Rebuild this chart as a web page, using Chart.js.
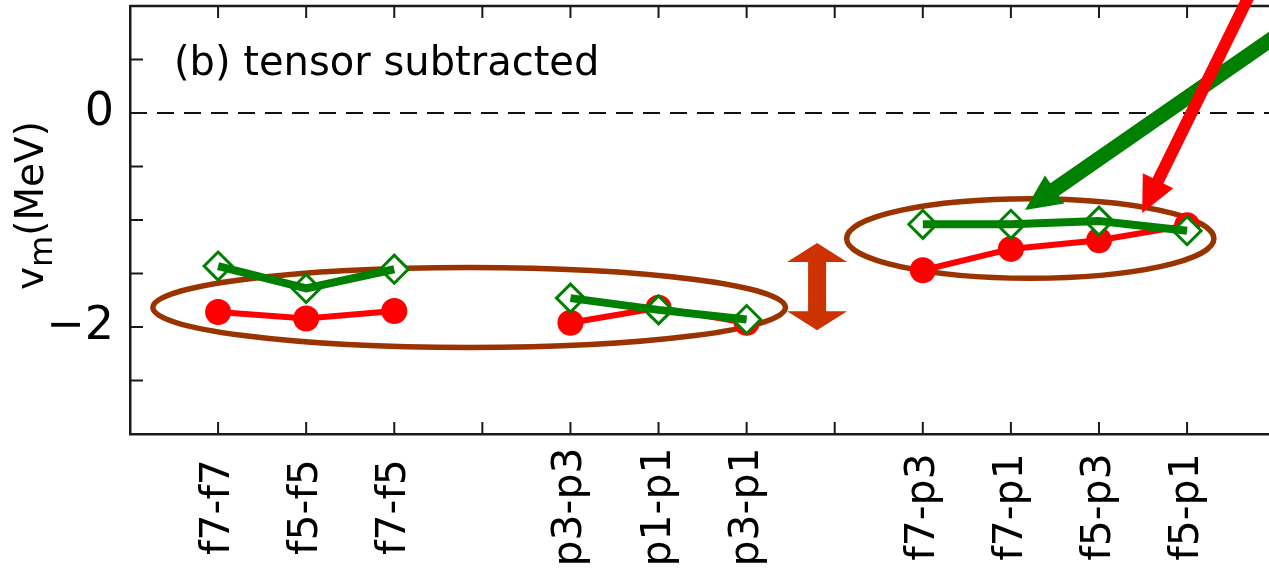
<!DOCTYPE html>
<html>
<head>
<meta charset="utf-8">
<script src="https://cdn.jsdelivr.net/npm/chart.js@4"></script>
<style>
  html, body { margin: 0; padding: 0; background: #fff; }
</style>
</head>
<body>
<canvas id="chart" width="1269" height="577"></canvas>
<script>
/* ---------- DATA ---------- */
const LABELS = ["f7-f7","f5-f5","f7-f5","","p3-p3","p1-p1","p3-p1","","f7-p3","f7-p1","f5-p3","f5-p1"];
const POSITIONS = [1,2,3,4,5,6,7,8,9,10,11,12];
const RED_VALUES   = [-1.86,-1.92,-1.85,null,-1.96,-1.82,-1.96,null,-1.47,-1.27,-1.19,-1.05];
const GREEN_VALUES = [-1.43,-1.64,-1.46,null,-1.73,-1.84,-1.93,null,-1.04,-1.04,-1.01,-1.10];
const Y_TICKS = [-2.5,-2,-1.5,-1,-0.5,0,0.5];
const Y_LABELS = { "0": "0", "-2": "\u22122" };

/* ---------- ANNOTATIONS (data units) ---------- */
const ELLIPSES = [
  { cx: 3.85,  cy: -1.818, rx: 3.59,  ry: 0.374 },
  { cx: 10.22, cy: -1.173, rx: 2.085, ry: 0.372 }
];
const DOUBLE_ARROW = { x: 7.8, top: -1.215, bottom: -2.03 };
const ARROWS = [
  { color: "#008000", from: [13.16, 0.806], to: [10.16, -0.907], width: 15 },
  { color: "#ff0000", from: [12.79, 1.24],  to: [11.49, -0.935], width: 12 }
];

const AXIS_COLOR = "#1a1a1a";
const FONT = "DejaVu Sans";

const toPoints = values => POSITIONS.map((p, i) => ({ x: p, y: values[i] }));

/* ---------- HELPERS ---------- */
function arrowPath(ctx, x0, y0, x1, y1, w, headLen, headHalf) {
  const len = Math.hypot(x1 - x0, y1 - y0);
  const ux = (x1 - x0) / len, uy = (y1 - y0) / len;
  const nx = -uy, ny = ux;
  const bx = x1 - ux * headLen, by = y1 - uy * headLen;
  ctx.beginPath();
  ctx.moveTo(x0 + nx * w / 2, y0 + ny * w / 2);
  ctx.lineTo(bx + nx * w / 2, by + ny * w / 2);
  ctx.lineTo(bx + nx * headHalf, by + ny * headHalf);
  ctx.lineTo(x1, y1);
  ctx.lineTo(bx - nx * headHalf, by - ny * headHalf);
  ctx.lineTo(bx - nx * w / 2, by - ny * w / 2);
  ctx.lineTo(x0 - nx * w / 2, y0 - ny * w / 2);
  ctx.closePath();
  ctx.fill();
}

function doubleArrowPath(ctx, x, top, bottom, w, headLen, headHalf) {
  ctx.beginPath();
  ctx.moveTo(x, top);
  ctx.lineTo(x + headHalf, top + headLen);
  ctx.lineTo(x + w / 2, top + headLen);
  ctx.lineTo(x + w / 2, bottom - headLen);
  ctx.lineTo(x + headHalf, bottom - headLen);
  ctx.lineTo(x, bottom);
  ctx.lineTo(x - headHalf, bottom - headLen);
  ctx.lineTo(x - w / 2, bottom - headLen);
  ctx.lineTo(x - w / 2, top + headLen);
  ctx.lineTo(x - headHalf, top + headLen);
  ctx.closePath();
  ctx.fill();
}

/* ---------- DECOR PLUGIN ---------- */
const decor = {
  id: "decor",
  beforeDatasetsDraw(chart) {
    const { ctx, scales: { x, y } } = chart;
    ctx.save();
    // zero line
    ctx.strokeStyle = "#111";
    ctx.lineWidth = 2;
    ctx.setLineDash([17, 10]);
    const y0 = y.getPixelForValue(0);
    ctx.beginPath();
    ctx.moveTo(x.left, y0);
    ctx.lineTo(x.right, y0);
    ctx.stroke();
    ctx.setLineDash([]);

    // ellipses
    ctx.strokeStyle = "#993300";
    ctx.lineWidth = 5.5;
    ELLIPSES.forEach(e => {
      const cx = x.getPixelForValue(e.cx);
      const cy = y.getPixelForValue(e.cy);
      const rx = x.getPixelForValue(e.cx + e.rx) - cx;
      const ry = y.getPixelForValue(e.cy - e.ry) - cy;
      ctx.beginPath();
      ctx.ellipse(cx, cy, rx, ry, 0, 0, Math.PI * 2);
      ctx.stroke();
    });
    ctx.restore();
  },
  afterDraw(chart) {
    const { ctx, chartArea, scales: { x, y } } = chart;
    ctx.save();

    // top frame line
    ctx.strokeStyle = AXIS_COLOR;
    ctx.lineWidth = 2.5;
    ctx.beginPath();
    ctx.moveTo(chartArea.left, chartArea.top);
    ctx.lineTo(chartArea.right, chartArea.top);
    ctx.stroke();

    // inward ticks
    ctx.lineWidth = 2;
    ctx.beginPath();
    POSITIONS.forEach(p => {
      const px = x.getPixelForValue(p);
      ctx.moveTo(px, chartArea.bottom);
      ctx.lineTo(px, chartArea.bottom - 12);
      ctx.moveTo(px, chartArea.top);
      ctx.lineTo(px, chartArea.top + 12);
    });
    Y_TICKS.forEach(v => {
      const py = y.getPixelForValue(v);
      ctx.moveTo(chartArea.left, py);
      ctx.lineTo(chartArea.left + 13, py);
    });
    ctx.stroke();

    // category labels, rotated and centred in the axis band
    ctx.fillStyle = "#000";
    ctx.font = `41px "${FONT}"`;
    ctx.textAlign = "center";
    ctx.textBaseline = "alphabetic";
    POSITIONS.forEach((p, i) => {
      if (!LABELS[i]) return;
      ctx.save();
      ctx.translate(x.getPixelForValue(p), 507);
      ctx.rotate(-Math.PI / 2);
      ctx.fillText(LABELS[i], 0, 11);
      ctx.restore();
    });

    // y axis title v_m(MeV)
    ctx.save();
    ctx.translate(43, 290);
    ctx.rotate(-Math.PI / 2);
    ctx.textAlign = "left";
    ctx.font = `39px "${FONT}"`;
    ctx.fillText("v", 0, 0);
    let off = ctx.measureText("v").width;
    ctx.font = `32px "${FONT}"`;
    ctx.fillText("m", off, 9);
    off += ctx.measureText("m").width;
    ctx.font = `39px "${FONT}"`;
    ctx.fillText("(MeV)", off, 0);
    ctx.restore();

    // panel title
    ctx.textAlign = "left";
    ctx.font = `40px "${FONT}"`;
    ctx.fillText("(b) tensor subtracted", 174, 75);

    // double arrow
    ctx.fillStyle = "#cc3300";
    doubleArrowPath(ctx,
      x.getPixelForValue(DOUBLE_ARROW.x),
      y.getPixelForValue(DOUBLE_ARROW.top),
      y.getPixelForValue(DOUBLE_ARROW.bottom),
      18, 19, 30);

    // pointer arrows
    ARROWS.forEach(a => {
      ctx.fillStyle = a.color;
      arrowPath(ctx,
        x.getPixelForValue(a.from[0]), y.getPixelForValue(a.from[1]),
        x.getPixelForValue(a.to[0]), y.getPixelForValue(a.to[1]),
        a.width, 36, 17);
    });

    ctx.restore();
  }
};

/* ---------- CHART ---------- */
new Chart(document.getElementById("chart"), {
  type: "line",
  data: {
    datasets: [
      {
        label: "green line",
        data: toPoints(GREEN_VALUES),
        borderColor: "#008000",
        borderWidth: 8,
        pointRadius: 0,
        spanGaps: false,
        order: 0
      },
      {
        label: "green markers",
        data: toPoints(GREEN_VALUES),
        showLine: false,
        pointStyle: "rectRot",
        pointRadius: 14,
        pointBorderWidth: 3,
        pointBorderColor: "#008000",
        pointBackgroundColor: "#ffffff",
        order: 1
      },
      {
        label: "red",
        data: toPoints(RED_VALUES),
        borderColor: "#ff0000",
        borderWidth: 6,
        pointRadius: 13,
        pointBorderWidth: 0,
        pointBackgroundColor: "#ff0000",
        spanGaps: false,
        order: 2
      }
    ]
  },
  options: {
    responsive: false,
    animation: false,
    events: [],
    layout: { autoPadding: false, padding: { top: 6, right: 0, left: 0, bottom: 0 } },
    plugins: {
      legend: { display: false },
      tooltip: { enabled: false }
    },
    scales: {
      x: {
        type: "linear",
        min: 0,
        max: 12.93,
        grid: { display: false, drawTicks: false },
        border: { display: true, color: AXIS_COLOR, width: 2.5 },
        ticks: { display: false },
        afterBuildTicks: s => { s.ticks = POSITIONS.map(v => ({ value: v })); },
        afterFit: s => {
          s.height = 143;
          s.paddingLeft = 0;
          s.paddingRight = 0;
        }
      },
      y: {
        min: -3,
        max: 1,
        grid: { display: false, drawTicks: false },
        border: { display: true, color: AXIS_COLOR, width: 2.5 },
        ticks: {
          stepSize: 0.5,
          autoSkip: false,
          padding: 16,
          color: "#000",
          font: { family: FONT, size: 46 },
          callback: v => Y_LABELS[v] ?? ""
        },
        afterFit: s => {
          s.width = 130;
          s.paddingTop = 0;
          s.paddingBottom = 0;
        }
      }
    }
  },
  plugins: [decor]
});
</script>
</body>
</html>
